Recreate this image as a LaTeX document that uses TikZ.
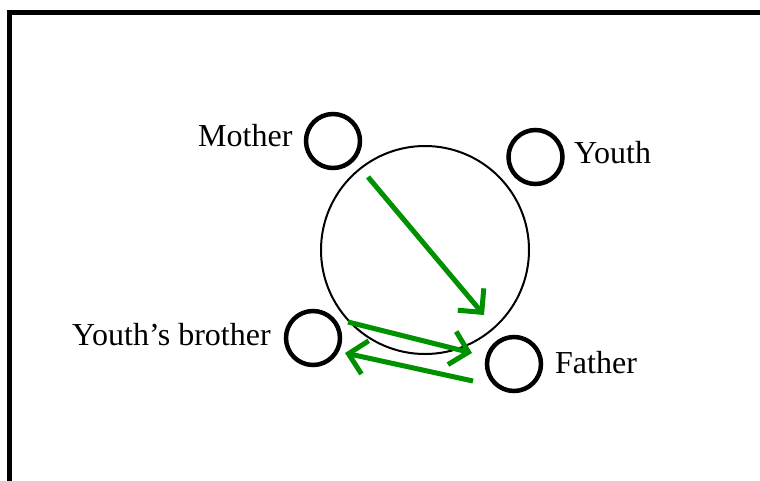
\documentclass[tikz,border=0pt]{standalone}
\usepackage{fontspec}
\setmainfont{Liberation Serif}
\usetikzlibrary{arrows.meta}
\definecolor{arrowgreen}{RGB}{0,145,0}
\tikzset{
  person/.style={circle, draw=black, line width=4.5pt, minimum size=54pt, inner sep=0pt},
  who/.style={inner sep=0pt, anchor=base west, font=\fontsize{32}{37}\selectfont},
  flow/.style={draw=arrowgreen, line width=5pt,
    -{Straight Barb[length=17pt, width=34pt, line width=5pt]}},
}
\begin{document}
\begin{tikzpicture}[x=1pt, y=-1pt]
  \useasboundingbox (0,0) rectangle (760,480);
  \begin{scope}
    \clip (0,0) rectangle (760,480);
    \draw[line width=5pt] (9,12.5) rectangle (820,540);
  \end{scope}

  % table
  \node[circle, draw=black, line width=2pt, minimum size=208pt, inner sep=0pt] (table) at (425,250) {};

  % family members
  \node[person] (mother)  at (333,141) {};
  \node[person] (youth)   at (535.5,157) {};
  \node[person] (brother) at (313,338) {};
  \node[person] (father)  at (514,364) {};

  \node[who] (lmother)  at (198,146) {Mother};
  \node[who] (lyouth)   at (574,163) {Youth};
  \node[who] (lbrother) at (72,345) {Youth’s brother};
  \node[who] (lfather)  at (555,373) {Father};

  % arrow ends
  \coordinate (a1s) at (368,177);
  \coordinate (a1e) at (484,315);
  \coordinate (a2s) at (348,322);
  \coordinate (a2e) at (472,353);
  \coordinate (a3s) at (473,381);
  \coordinate (a3e) at (345,353);

  \draw[flow] (a1s) -- (a1e);
  \draw[flow] (a2s) -- (a2e);
  \draw[flow] (a3s) -- (a3e);
\end{tikzpicture}
\end{document}
